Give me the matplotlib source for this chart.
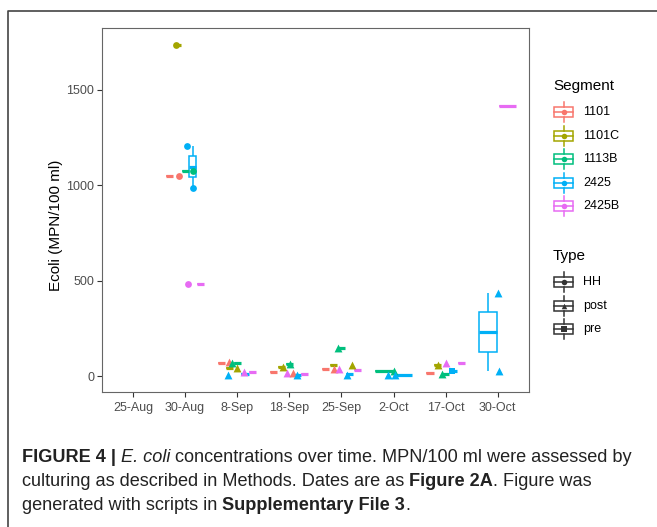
import matplotlib
matplotlib.use("Agg")
import matplotlib.pyplot as plt
import numpy as np
from matplotlib import cbook
from matplotlib.patches import Rectangle

plt.rcParams['font.family'] = ['Liberation Sans', 'DejaVu Sans']

dates = ['25-Aug', '30-Aug', '8-Sep', '18-Sep', '25-Sep', '2-Oct', '17-Oct', '30-Oct']
segments = ['1101', '1101C', '1113B', '2425', '2425B']
types = ['HH', 'post', 'pre']

# observations summarised by the boxes
box_date = ['30-Aug', '30-Aug', '30-Aug', '30-Aug', '30-Aug', '30-Aug', '30-Aug',
            '8-Sep', '8-Sep', '8-Sep', '8-Sep', '8-Sep',
            '18-Sep', '18-Sep', '18-Sep', '18-Sep', '18-Sep',
            '25-Sep', '25-Sep', '25-Sep', '25-Sep', '25-Sep',
            '2-Oct', '2-Oct', '2-Oct',
            '17-Oct', '17-Oct', '17-Oct', '17-Oct', '17-Oct',
            '30-Oct', '30-Oct', '30-Oct', '30-Oct']
box_seg = ['1101', '1101C', '1113B', '2425', '2425', '2425', '2425B',
           '1101', '1101C', '1113B', '2425', '2425B',
           '1101', '1101C', '1113B', '2425', '2425B',
           '1101', '1101C', '1113B', '2425', '2425B',
           '1113B', '2425', '2425',
           '1101', '1101C', '1113B', '2425', '2425B',
           '2425', '2425', '2425', '2425B']
box_val = [1050, 1735, 1074, 984, 1098, 1205, 485,
           70, 42, 68, 10, 24,
           20, 50, 62, 7, 14,
           37, 57, 150, 10, 35,
           27, 4, 8,
           17, 57, 14, 28, 68,
           26, 232, 437, 1415]

# individual points (jittered in the original)
pt_date = ['30-Aug'] * 6 + ['8-Sep'] * 5 + ['18-Sep'] * 5 + ['25-Sep'] * 5 + \
          ['2-Oct'] * 3 + ['17-Oct'] * 4 + ['30-Oct'] * 2
pt_seg = ['1101', '1101C', '1113B', '2425', '2425', '2425B',
          '1101', '1113B', '1101C', '2425', '2425B',
          '1101C', '1113B', '2425B', '1101', '2425',
          '1113B', '1101', '2425B', '1101C', '2425',
          '1113B', '2425', '2425',
          '1101C', '2425B', '1113B', '2425',
          '2425', '2425']
pt_type = ['HH'] * 6 + ['post'] * 5 + ['post'] * 5 + ['post'] * 5 + \
          ['post'] * 3 + ['post', 'post', 'post', 'pre'] + ['post'] * 2
pt_val = [1050, 1735, 1074, 1205, 984, 485,
          72, 68, 42, 8, 20,
          50, 65, 16, 18, 6,
          150, 40, 37, 57, 8,
          28, 8, 4,
          57, 68, 14, 30,
          437, 26]

# ---- style / layout ----
seg_colors = ['#F8766D', '#A3A500', '#00BF7D', '#00B0F6', '#E76BF3']
type_markers = ['o', '^', 's']
type_sizes = [24, 32, 24]
jitter = [-0.11, -0.17, 0.15, 0.04, 0.15, 0.06,
          -0.15, -0.10, 0.0, -0.17, 0.13,
          -0.13, 0.02, -0.04, 0.08, 0.15,
          -0.06, -0.15, -0.04, 0.21, 0.10,
          0.0, -0.11, 0.02,
          -0.15, 0.0, -0.06, 0.13,
          0.0, 0.02]

W, H = 657, 527
fig = plt.figure(figsize=(W / 100, H / 100), dpi=100)

def box_px(x0, y0, x1, y1):
    return [x0 / W, 1 - y1 / H, (x1 - x0) / W, (y1 - y0) / H]

ax = fig.add_axes(box_px(101.7, 28.3, 529, 392))

lw = 1.1
for i, d in enumerate(dates):
    present = [s for s in segments if any(bd == d and bs == s for bd, bs in zip(box_date, box_seg))]
    n = len(present)
    for j, s in enumerate(present):
        vals = [v for bd, bs, v in zip(box_date, box_seg, box_val) if bd == d and bs == s]
        c = seg_colors[segments.index(s)]
        pos = i + (j - (n - 1) / 2) * 0.75 / n
        st = cbook.boxplot_stats(np.array(vals, dtype=float), whis=1.5)
        ax.bxp(st, positions=[pos], widths=[0.75 / n * 0.9], showfliers=False,
               showcaps=False, patch_artist=True, manage_ticks=False,
               boxprops=dict(facecolor='white', edgecolor=c, linewidth=lw),
               medianprops=dict(color=c, linewidth=2.3, solid_capstyle='butt'),
               whiskerprops=dict(color=c, linewidth=lw, solid_capstyle='butt'))

for d, s, t, v, jt in zip(pt_date, pt_seg, pt_type, pt_val, jitter):
    k = types.index(t)
    ax.scatter(dates.index(d) + jt, v, marker=type_markers[k], s=type_sizes[k],
               color=seg_colors[segments.index(s)], linewidths=0, zorder=5)

allv = box_val + pt_val
rng = max(allv) - min(allv)
ax.set_ylim(min(allv) - 0.05 * rng, max(allv) + 0.05 * rng)
ax.set_xlim(-0.6, len(dates) - 0.4)
ax.set_xticks(range(len(dates)))
ax.set_xticklabels(dates)
ax.set_yticks([0, 500, 1000, 1500])
ax.tick_params(length=3.5, width=0.8, color='#333333', labelcolor='#4d4d4d',
               labelsize=9, pad=2)
ax.tick_params(axis='x', pad=4)
for sp in ax.spines.values():
    sp.set_color('#666666')
    sp.set_linewidth(0.8)

# overlay in pixel coordinates for frame, axis title, legend and caption
ov = fig.add_axes([0, 0, 1, 1])
ov.set_xlim(0, W)
ov.set_ylim(H, 0)
ov.axis('off')
ov.patch.set_visible(False)

ov.plot([8, 8, W], [H, 11, 11], color='#444444', lw=1.2, solid_capstyle='butt')
ov.text(56, 225, 'Ecoli (MPN/100 ml)', rotation=90, ha='center', va='center',
        fontsize=11, color='black')

def key(x, y, c, marker):
    ov.add_patch(Rectangle((x - 9.5, y - 5), 19, 10, facecolor='white', edgecolor=c, lw=lw))
    ov.plot([x - 9.5, x + 9.5], [y, y], color=c, lw=lw)
    ov.plot([x, x], [y - 10, y - 5], color=c, lw=lw)
    ov.plot([x, x], [y + 5, y + 10], color=c, lw=lw)
    ov.scatter([x], [y], marker=marker, s=16, color=c, linewidths=0, zorder=5)

ov.text(553, 86, 'Segment', fontsize=11, va='center', ha='left')
for k, s in enumerate(segments):
    y = 112 + 23.6 * k
    key(563.5, y, seg_colors[k], 'o')
    ov.text(583, y, s, fontsize=9, va='center', ha='left')

ov.text(553, 256, 'Type', fontsize=11, va='center', ha='left')
for k, t in enumerate(types):
    y = 282 + 23.6 * k
    key(563.5, y, '#333333', type_markers[k])
    ov.text(583, y, t, fontsize=9, va='center', ha='left')

caption = [
    [('FIGURE 4 | ', 'bold', 'normal'), ('E. coli', 'normal', 'italic'),
     (' concentrations over time. MPN/100 ml were assessed by', 'normal', 'normal')],
    [('culturing as described in Methods. Dates are as ', 'normal', 'normal'),
     ('Figure 2A', 'bold', 'normal'), ('. Figure was', 'normal', 'normal')],
    [('generated with scripts in ', 'normal', 'normal'),
     ('Supplementary File 3', 'bold', 'normal'), ('.', 'normal', 'normal')],
]
renderer = fig.canvas.get_renderer()
for li, runs in enumerate(caption):
    x = 22
    y = 458 + 23.8 * li
    for txt, wt, sty in runs:
        t = ov.text(x, y, txt, fontsize=13.1, fontweight=wt, fontstyle=sty,
                    color='#222222', va='center', ha='left')
        bb = t.get_window_extent(renderer=renderer)
        x += bb.width

fig.savefig('out.png', dpi=100)
